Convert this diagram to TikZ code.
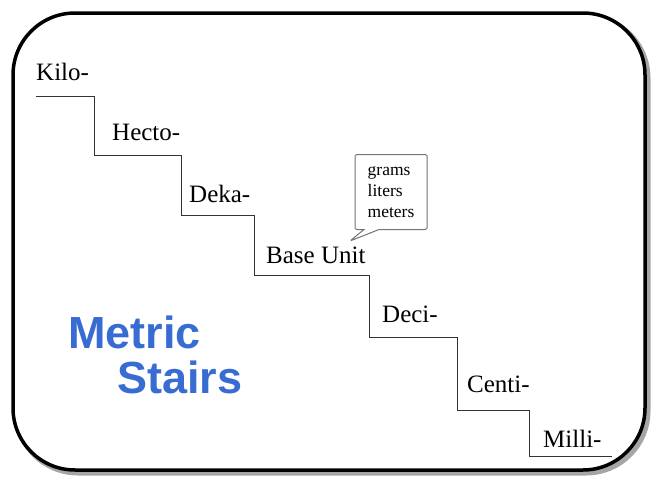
\documentclass[tikz,border=0pt]{standalone}
\usepackage{fontspec}
\setmainfont{Liberation Serif}
\setsansfont{Liberation Sans}
\usepackage{tikz}
\usetikzlibrary{shapes.callouts}

\definecolor{titleblue}{RGB}{56,108,210}

\begin{document}
\begin{tikzpicture}[x=1pt,y=-1pt,
			stair node/.style={anchor=base west,inner sep=0pt,font=\fontsize{25}{30}\selectfont},
			title node/.style={anchor=base west,inner sep=0pt,text=titleblue,
				font=\sffamily\bfseries\fontsize{45}{54}\selectfont},
			unit box/.style={rectangle callout,draw=black!55,line width=1pt,rounded corners=1.5pt,
				fill=white,minimum width=72pt,minimum height=75pt,align=left,inner sep=4pt,
				font=\fontsize{17.5}{21}\selectfont,callout pointer width=15pt}]

		\useasboundingbox (0,0) rectangle (651,479);

		% frame with a soft shadow
		\draw[black!35,line width=5pt,rounded corners=62pt] (16,16) rectangle (648,473);
		\draw[line width=3.5pt,rounded corners=62pt,fill=white] (13,13) rectangle (645,470);

		\node[stair node] (kilo) at (36,80) {Kilo-};
		\node[stair node] (hecto) at (112,140) {Hecto-};
		\node[stair node] (deka) at (189,202) {Deka-};
		\node[stair node] (base) at (266,263) {Base Unit};
		\node[stair node] (deci) at (382,322) {Deci-};
		\node[stair node] (centi) at (467,392) {Centi-};
		\node[stair node] (milli) at (543,447) {Milli-};

		% the stairs
		\draw[black!80,line width=.9pt] (36,96) -| (94,155) -| (181,215) -| (254,275)
			-| (369,337) -| (457,410) -| (529,456) -- (612,456);

		\node[unit box,callout absolute pointer={(350,241)}] (units) at (391,192)
			{grams\\liters\\meters};

		\node[title node] (metric) at (68,348) {Metric};
		\node[title node] (stairs) at (117,393) {Stairs};
	\end{tikzpicture}
\end{document}
